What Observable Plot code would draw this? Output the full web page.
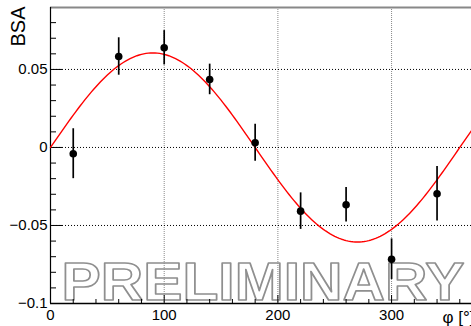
<!DOCTYPE html>
<html><head><meta charset="utf-8">
<script src="https://cdn.jsdelivr.net/npm/d3@7"></script>
<script src="https://cdn.jsdelivr.net/npm/@observablehq/plot@0.6"></script>
<style>html,body{margin:0;padding:0;background:#fff}svg{display:block}</style>
</head><body><div id="chart"></div>
<script>
// Data
const phi = [20, 60, 100, 140, 180, 220, 260, 300, 340];
const bsa = [-0.0040, 0.0583, 0.0639, 0.0436, 0.0030, -0.0408, -0.0367, -0.0716, -0.0297];
const bsaErr = [0.0160, 0.0120, 0.0110, 0.0098, 0.0119, 0.0117, 0.0110, 0.0130, 0.0175];
// Fit: A * sin(phi)
const fitAmplitude = 0.0606;
const fitPhi = d3.range(0, 372, 2);

const xDomain = [0, 370.3];
const yDomain = [-0.1, 0.0897];
const xMajorTicks = [0, 100, 200, 300];
const xTickLabels = ["0", "100", "200", "300"];
const xMinorTicks = [20, 40, 60, 80, 120, 140, 160, 180, 220, 240, 260, 280, 320, 340, 360];
const yMajorTicks = [-0.1, -0.05, 0, 0.05];
const yTickLabels = ["\u22120.1", "\u22120.05", "0", "0.05"];
const yMinorTicks = [-0.09, -0.08, -0.07, -0.06, -0.04, -0.03, -0.02, -0.01, 0.01, 0.02, 0.03, 0.04, 0.06, 0.07, 0.08];
const xGrid = [100, 200, 300];
const yGrid = [-0.05, 0, 0.05];
const xLabel = "\u03c6 [\u00b0]";
const yLabel = "BSA";
const watermark = "PRELIMINARY";

const W = 471, H = 326;
const mL = 50, mR = 0, mT = 7, mB = 23;
const plotW = W - mL - mR, plotH = H - mT - mB;
const font = "'Liberation Sans', Arial, Helvetica, sans-serif";

const points = phi.map((p, i) => ({phi: p, v: bsa[i], e: bsaErr[i]}));
const fit = fitPhi.map(p => ({phi: p, v: fitAmplitude * Math.sin(p * Math.PI / 180)}));

const chart = Plot.plot({
  width: W, height: H,
  marginLeft: mL, marginRight: mR, marginTop: mT, marginBottom: mB,
  x: {domain: xDomain, axis: null},
  y: {domain: yDomain, axis: null},
  style: {background: "#fff", overflow: "visible", fontFamily: font},
  marks: [
    // watermark (hollow)
    Plot.text([watermark], {frameAnchor: "bottom", text: d => d, lineAnchor: "bottom", dy: -4, dx: 2,
      fontSize: 54, fontWeight: "bold", fontFamily: font, fill: "none", stroke: "#8f8f8f", strokeWidth: 1.6}),
    // grid
    Plot.ruleX(xGrid, {x: d => d, stroke: "#888", strokeWidth: 1, strokeDasharray: "1,1"}),
    Plot.ruleY(yGrid, {y: d => d, stroke: "#000", strokeWidth: 1, strokeDasharray: "1,2"}),
    // frame
    Plot.ruleY([yDomain[1]], {y: d => d, stroke: "#888", strokeWidth: 2}),
    Plot.ruleX([xDomain[0]], {x: d => d, stroke: "#000", strokeWidth: 1.2}),
    Plot.ruleY([yDomain[0]], {y: d => d, stroke: "#000", strokeWidth: 1.6}),
    // y ticks (inward)
    Plot.tickY(yMajorTicks, {y: d => d, stroke: "#000", strokeWidth: 1, insetRight: plotW - 12}),
    Plot.tickY(yMinorTicks, {y: d => d, stroke: "#000", strokeWidth: 1, insetRight: plotW - 6}),
    // x ticks (inward)
    Plot.tickX(xMajorTicks, {x: d => d, stroke: "#000", strokeWidth: 1, insetTop: plotH - 8}),
    Plot.tickX(xMinorTicks, {x: d => d, stroke: "#000", strokeWidth: 1, insetTop: plotH - 4}),
    // fit curve
    Plot.line(fit, {x: "phi", y: "v", stroke: "#ff0000", strokeWidth: 1.4}),
    // data
    Plot.ruleX(points, {x: "phi", y1: d => d.v - d.e, y2: d => d.v + d.e, stroke: "#000", strokeWidth: 1.7}),
    Plot.dot(points, {x: "phi", y: "v", r: 3.8, fill: "#000", stroke: "none"}),
    // tick labels
    Plot.text(yMajorTicks, {y: d => d, frameAnchor: "left", text: yTickLabels, textAnchor: "end", dx: -3,
      fontSize: 15, fill: "#000"}),
    Plot.text(xMajorTicks, {x: d => d, frameAnchor: "bottom", text: xTickLabels, textAnchor: "middle",
      lineAnchor: "bottom", dy: 16, fontSize: 15, fill: "#000"}),
    // axis titles
    Plot.text([yLabel], {frameAnchor: "top-left", text: d => d, rotate: -90, textAnchor: "end",
      lineAnchor: "bottom", dx: -26, dy: -1, fontSize: 20, fill: "#000"}),
    Plot.text([xLabel], {frameAnchor: "bottom-right", text: d => d, textAnchor: "start",
      lineAnchor: "bottom", dx: -29, dy: 19, fontSize: 17, fill: "#000"})
  ]
});

d3.select(chart).selectAll("text").filter(function () { return this.textContent === watermark; })
  .attr("textLength", 403).attr("lengthAdjust", "spacingAndGlyphs");

document.getElementById("chart").appendChild(chart);
</script>
</body></html>
